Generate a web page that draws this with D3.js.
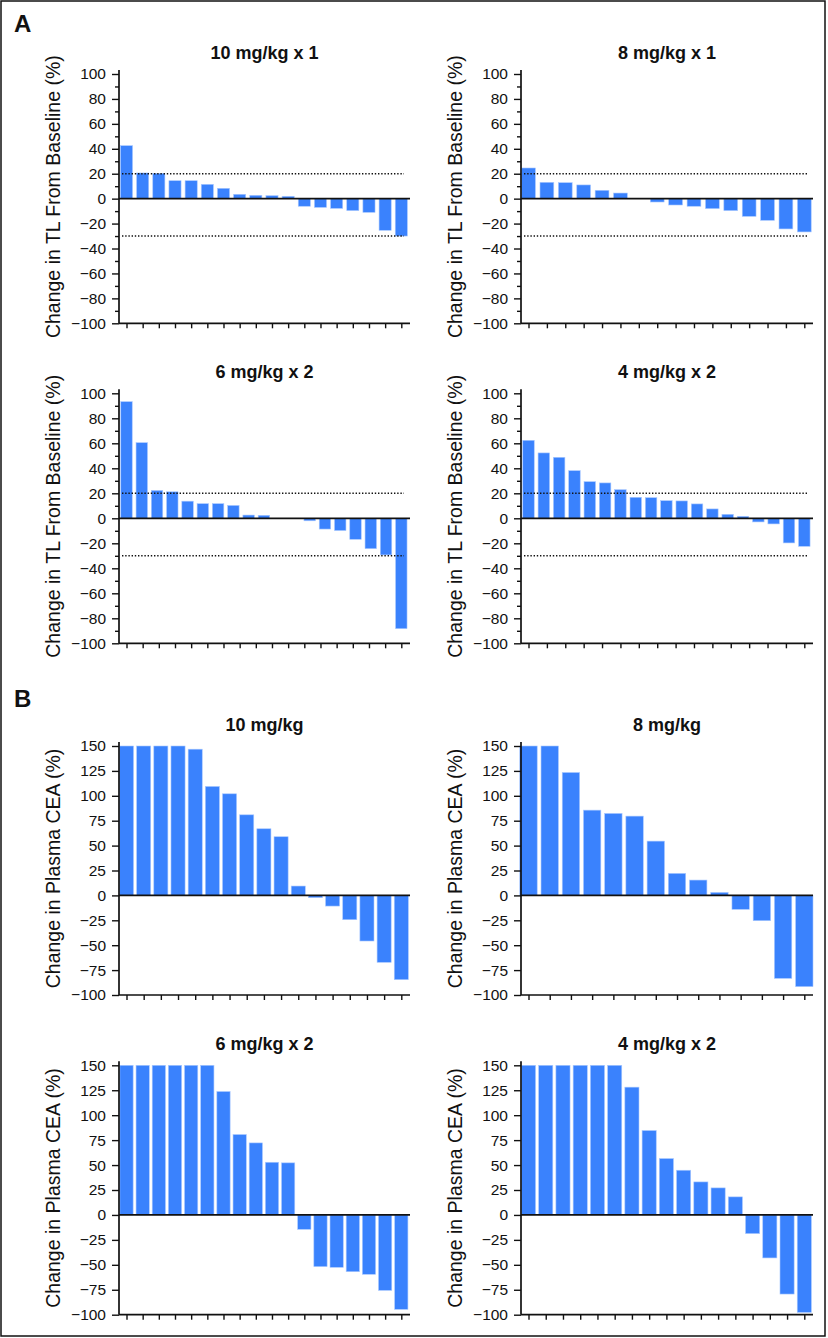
<!DOCTYPE html>
<html>
<head>
<meta charset="utf-8">
<script src="https://cdn.jsdelivr.net/npm/d3@7"></script>
<style>
  html, body { margin: 0; padding: 0; background: #fff; }
  svg { display: block; }
  text { font-family: "Liberation Sans", Arial, Helvetica, sans-serif; fill: #111; }
</style>
</head>
<body>
<svg id="chart" width="828" height="1338"></svg>
<script>
// ---- Data ----
const tlTitles = ["10 mg/kg x 1", "8 mg/kg x 1", "6 mg/kg x 2", "4 mg/kg x 2"];
const ceaTitles = ["10 mg/kg", "8 mg/kg", "6 mg/kg x 2", "4 mg/kg x 2"];

// Panel A: change in target lesions from baseline (%)
const tl10x1 = [42.5, 20.6, 20.3, 14.4, 14.4, 11.5, 8.3, 3.5, 2.7, 2.4, 1.9, -6.1, -7.0, -7.8, -9.6, -11.0, -25.4, -30.0];
const tl8x1 = [24.6, 13.1, 12.8, 11.0, 6.7, 4.5, 0, -2.7, -5.1, -6.1, -8.0, -9.6, -14.2, -17.4, -24.3, -26.7];
const tl6x2 = [93.3, 60.5, 22.3, 21.2, 13.7, 11.7, 11.7, 10.3, 2.6, 2.4, 0, 0, -2.0, -8.6, -9.8, -16.8, -24.3, -29.3, -88.3];
const tl4x2 = [62.4, 52.3, 48.8, 38.1, 29.3, 28.3, 22.9, 16.8, 16.5, 14.1, 13.9, 11.5, 7.5, 3.2, 1.6, -2.9, -4.5, -19.7, -22.4];

// Panel B: change in plasma CEA (%), capped at 150
const cea10 = [150, 150, 150, 150, 146.8, 109.4, 102, 80.9, 66.9, 58.9, 9.4, -2.3, -10.7, -24.4, -45.8, -67.2, -84.6];
const cea8 = [150, 150, 123.4, 85.6, 82.3, 79.6, 54.5, 22.1, 15.4, 3, -14, -25.4, -83.3, -91.6];
const cea6x2 = [150, 150, 150, 150, 150, 150, 123.7, 80.6, 72.2, 52.8, 52.2, -14.4, -51.8, -52.5, -56.9, -59.5, -75.6, -94.6];
const cea4x2 = [150, 150, 150, 150, 150, 150, 128.1, 84.6, 56.5, 44.8, 33.1, 27.1, 18.1, -18.7, -43.1, -79.3, -97.7];

// x tick counts drawn under each panel (as in the figure)
const tlTickCounts = [18, 16, 18, 16];
const ceaTickCounts = [17, 14, 18, 17];

// y axis ticks
const tlYDomain = [-100, 100];
const tlYTicks = [-100, -80, -60, -40, -20, 0, 20, 40, 60, 80, 100];
const tlYMinor = [-90, -70, -50, -30, -10, 10, 30, 50, 70, 90];
const tlRefLines = [20, -30];
const ceaYDomain = [-100, 150];
const ceaYTicks = [-100, -75, -50, -25, 0, 25, 50, 75, 100, 125, 150];

const tlYLabel = "Change in TL From Baseline (%)";
const ceaYLabel = "Change in Plasma CEA (%)";
const panelLetters = ["A", "B"];

// ---- Drawing ----
const svg = d3.select("#chart");
const BLUE = "#3a82fd";

svg.append("rect")
  .attr("x", 1).attr("y", 1).attr("width", 824).attr("height", 1335)
  .attr("fill", "none").attr("stroke", "#111").attr("stroke-width", 1.5);

const colX = [[119, 410], [521, 813]];

function drawPanel(cfg) {
  const [x0, x1] = cfg.xr;
  const g = svg.append("g");
  const y = d3.scaleLinear().domain(cfg.yDomain).range([cfg.yBottom, cfg.yTop]);
  const x = d3.scalePoint().domain(d3.range(cfg.values.length)).range([x0 + 7.5, x1 - 8.7]);
  const xt = d3.scalePoint().domain(d3.range(cfg.tickCount)).range([x0 + 7.5, x1 - 8.7]);
  const bw = x.step() * cfg.barFrac;

  // bars
  g.append("g").selectAll("rect").data(cfg.values).join("rect")
    .attr("x", (d, i) => x(i) - bw / 2)
    .attr("y", d => y(Math.max(0, d)))
    .attr("width", bw)
    .attr("height", d => Math.abs(y(d) - y(0)))
    .attr("fill", BLUE)
    .attr("stroke", "#a9c8ff").attr("stroke-width", 0.6);

  // reference dotted lines
  if (cfg.refLines) {
    g.append("g").selectAll("line").data(cfg.refLines).join("line")
      .attr("x1", x0 + 3).attr("x2", x1 - 6)
      .attr("y1", d => y(d)).attr("y2", d => y(d))
      .attr("stroke", "#111").attr("stroke-width", 1.5)
      .attr("stroke-dasharray", "1.4 1.8");
  }

  // zero line
  g.append("line")
    .attr("x1", x0).attr("x2", x1)
    .attr("y1", y(0)).attr("y2", y(0))
    .attr("stroke", "#111").attr("stroke-width", 1.7);

  // y axis major
  const ya = g.append("g").attr("transform", `translate(${x0},0)`)
    .call(d3.axisLeft(y).tickValues(cfg.yTicks).tickSize(7).tickPadding(6).tickSizeOuter(0)
      .tickFormat(d3.format("d")));
  ya.select(".domain").remove();
  ya.selectAll("line").attr("stroke", "#111").attr("stroke-width", 1.4);
  ya.selectAll("text").attr("font-size", 15.5).attr("fill", "#111")
    .style("font-family", '"Liberation Sans", Arial, sans-serif');

  if (cfg.yMinor) {
    const ym = g.append("g").attr("transform", `translate(${x0},0)`)
      .call(d3.axisLeft(y).tickValues(cfg.yMinor).tickSize(4).tickFormat(""));
    ym.select(".domain").remove();
    ym.selectAll("line").attr("stroke", "#111").attr("stroke-width", 1.4);
  }

  // y axis line
  g.append("line")
    .attr("x1", x0).attr("x2", x0)
    .attr("y1", cfg.yTop - 4).attr("y2", cfg.yBottom)
    .attr("stroke", "#111").attr("stroke-width", 1.7);

  // x axis
  const xa = g.append("g").attr("transform", `translate(0,${cfg.yBottom})`)
    .call(d3.axisBottom(xt).tickSize(5).tickFormat(""));
  xa.select(".domain").remove();
  xa.selectAll("line").attr("stroke", "#111").attr("stroke-width", 1.4);
  g.append("line")
    .attr("x1", x0).attr("x2", x1)
    .attr("y1", cfg.yBottom).attr("y2", cfg.yBottom)
    .attr("stroke", "#111").attr("stroke-width", 1.7);

  // title
  g.append("text")
    .attr("x", (x0 + x1) / 2).attr("y", cfg.yTop - 15.5)
    .attr("text-anchor", "middle")
    .attr("font-size", 18).attr("font-weight", "bold")
    .text(cfg.title);

  // y label
  const cy = (cfg.yTop + cfg.yBottom) / 2 - 2;
  g.append("text")
    .attr("transform", `translate(${x0 - 59},${cy}) rotate(-90)`)
    .attr("text-anchor", "middle")
    .attr("font-size", 19.5)
    .text(cfg.yLabel);
}

const tlValues = [tl10x1, tl8x1, tl6x2, tl4x2];
const ceaValues = [cea10, cea8, cea6x2, cea4x2];
const tlRows = [[74, 323.3], [393.3, 643.3]];
const ceaRows = [[746, 995], [1065.3, 1314.7]];

tlValues.forEach((vals, i) => {
  const row = tlRows[Math.floor(i / 2)];
  drawPanel({
    values: vals, title: tlTitles[i], tickCount: tlTickCounts[i],
    xr: colX[i % 2], yTop: row[0], yBottom: row[1],
    yDomain: tlYDomain, yTicks: tlYTicks, yMinor: tlYMinor, refLines: tlRefLines,
    yLabel: tlYLabel, barFrac: 0.75
  });
});

ceaValues.forEach((vals, i) => {
  const row = ceaRows[Math.floor(i / 2)];
  drawPanel({
    values: vals, title: ceaTitles[i], tickCount: ceaTickCounts[i],
    xr: colX[i % 2], yTop: row[0], yBottom: row[1],
    yDomain: ceaYDomain, yTicks: ceaYTicks, yMinor: null, refLines: null,
    yLabel: ceaYLabel, barFrac: 0.82
  });
});

// panel letters
svg.selectAll("text.letter").data(panelLetters).join("text")
  .attr("class", "letter")
  .attr("x", 14)
  .attr("y", (d, i) => i === 0 ? 32 : 707)
  .attr("font-size", 24).attr("font-weight", "bold")
  .text(d => d);
</script>
</body>
</html>
